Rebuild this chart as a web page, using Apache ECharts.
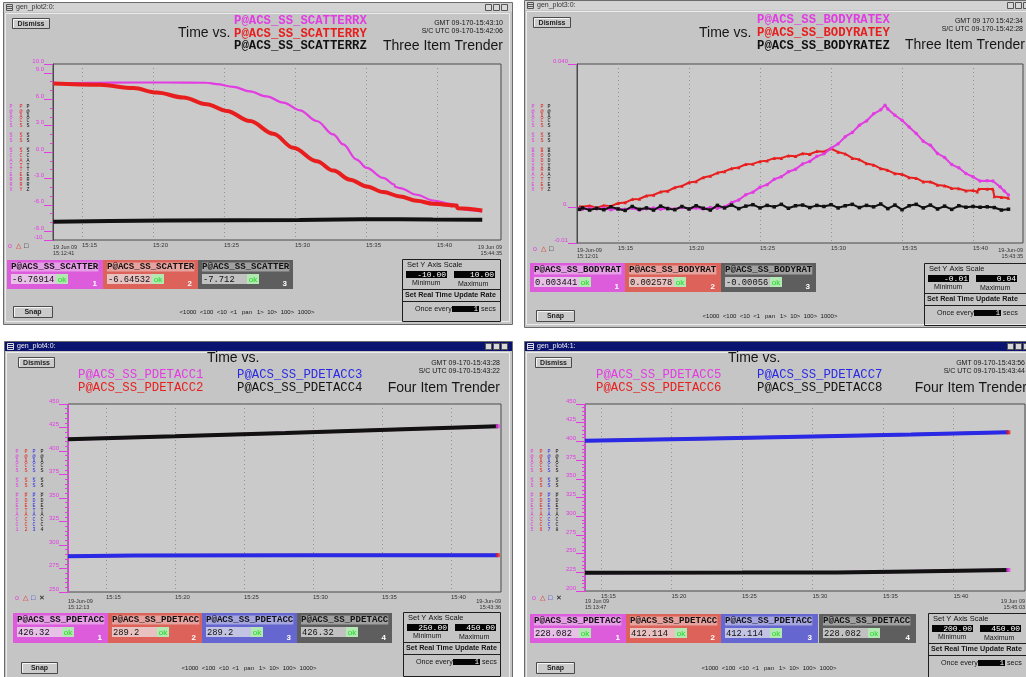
<!DOCTYPE html>
<html>
<head>
<meta charset="utf-8">
<script src="https://cdn.jsdelivr.net/npm/echarts@6/dist/echarts.min.js"></script>
<style>
html, body { margin: 0; padding: 0; background: #ffffff; }
#c { width: 1026px; height: 677px; }
</style>
</head>
<body>
<div id="c"></div>
<script>
// ---- time axis (minutes past 15:00 GMT) ----
const timeTickMinutes = [15, 20, 25, 30, 35, 40];
const timeTickLabels = ['15:15', '15:20', '15:25', '15:30', '15:35', '15:40'];

// ---- Three Item Trender: scatter errors ----
const scatterNames = ['P@ACS_SS_SCATTERRX', 'P@ACS_SS_SCATTERRY', 'P@ACS_SS_SCATTERRZ'];
const scatterLatest = ['-6.76914', '-6.64532', '-7.712'];
const scatterTickValues = [-10, -9, -6, -3, 0, 3, 6, 9, 10];
const scatterTickLabels = ['-10.', '-9.0', '-6.0', '-3.0', '0.0', '3.0', '6.0', '9.0', '10.0'];
const scatterMinorTicks = [-10, -9, -8, -7, -6, -5, -4, -3, -2, -1, 0, 1, 2, 3, 4, 5, 6, 7, 8, 9, 10];
const scatterX = [[12.98, 7.79], [15.5, 7.85], [18.62, 7.9], [21.0, 7.9], [23.78, 7.87], [24.49, 7.71],
  [25.66, 7.41], [26.83, 6.88], [28.0, 6.31], [29.18, 5.62], [30.35, 4.74], [31.53, 3.52], [32.7, 2.0],
  [33.4, 0.86], [34.34, -0.86], [35.05, -1.81], [36.22, -2.95], [37.0, -3.7], [37.05, -3.95], [37.4, -4.1],
  [38.57, -4.86], [39.74, -5.51], [40.92, -5.89], [41.4, -6.05], [41.43, -6.38], [42.3, -6.6], [43.19, -6.76914]];
const scatterY = [[12.98, 7.79], [16.27, 7.64], [18.62, 7.26], [20.26, 6.76], [22.14, 6.19], [23.78, 5.43],
  [25.19, 4.67], [26.83, 3.52], [28.47, 2.08], [29.88, 0.48], [31.53, -1.05], [32.7, -2.11], [33.88, -3.14],
  [35.05, -3.91], [36.22, -4.55], [37.4, -5.05], [38.57, -5.54], [39.74, -5.89], [41.39, -6.08],
  [41.43, -6.38], [43.19, -6.64532]];
const scatterZ = [[12.98, -7.92], [16.97, -7.85], [20.97, -7.78], [25.7, -7.75], [30.3, -7.72],
  [34.6, -7.64], [37.4, -7.63], [39.7, -7.68], [43.19, -7.712]];

// ---- Three Item Trender: body rates ----
const rateNames = ['P@ACS_SS_BODYRATEX', 'P@ACS_SS_BODYRATEY', 'P@ACS_SS_BODYRATEZ'];
const rateLatest = ['0.003441', '0.002578', '-0.00056'];
const rateTickValues = [-0.01, 0, 0.04];
const rateTickLabels = ['-0.01', '0.', '0.040'];
const bodyRateX = [[12.3, -0.0004], [12.5, -0.0006], [13.0, -0.0003], [13.5, -0.0005], [14.0, -0.0002],
  [14.5, -0.0007], [15.0, -0.0004], [15.5, -0.0006], [16.0, -0.0003], [16.5, -0.0008], [17.0, -0.0004],
  [17.5, -0.0002], [18.0, -0.0006], [18.5, -0.0003], [19.0, -0.0005], [19.5, -0.0001], [20.0, -0.0004],
  [20.5, -0.0002], [21.0, -0.0005], [21.5, -0.0001], [22.0, -0.0003], [22.5, 0.0001], [23.0, 0.0013],
  [23.5, 0.0020], [24.0, 0.0035], [24.5, 0.0042], [25.0, 0.0056], [25.5, 0.0063], [26.0, 0.0078],
  [26.5, 0.0085], [27.0, 0.0099], [27.5, 0.0106], [28.0, 0.0121], [28.5, 0.0128], [29.0, 0.0142],
  [29.5, 0.0149], [30.0, 0.0165], [30.5, 0.0177], [31.0, 0.0197], [31.5, 0.0209], [32.0, 0.0229],
  [32.5, 0.0241], [33.0, 0.0261], [33.5, 0.0272], [33.8, 0.0285], [34.0, 0.0274], [34.5, 0.0257],
  [35.0, 0.0243], [35.5, 0.0224], [36.0, 0.0206], [36.5, 0.0184], [37.0, 0.0173], [37.5, 0.0150],
  [38.0, 0.0139], [38.5, 0.0119], [39.0, 0.0110], [39.5, 0.0094], [40.0, 0.0085], [40.5, 0.0073],
  [41.0, 0.0074], [41.4, 0.0073], [41.9, 0.0057], [42.2, 0.0045], [42.5, 0.003441]];
const bodyRateY = [[12.3, 0.0002], [12.5, 0.0001], [13.0, 0.0004], [13.5, -0.0002], [14.0, 0.0005],
  [14.5, 0.0003], [15.0, 0.0011], [15.5, 0.0013], [16.0, 0.0022], [16.5, 0.0023], [17.0, 0.0032],
  [17.5, 0.0034], [18.0, 0.0043], [18.5, 0.0045], [19.0, 0.0055], [19.5, 0.0059], [20.0, 0.0069],
  [20.5, 0.0072], [21.0, 0.0083], [21.5, 0.0087], [22.0, 0.0096], [22.5, 0.0100], [23.0, 0.0108],
  [23.5, 0.0111], [24.0, 0.0120], [24.5, 0.0121], [25.0, 0.0128], [25.5, 0.0130], [26.0, 0.0137],
  [26.5, 0.0137], [27.0, 0.0144], [27.5, 0.0142], [28.0, 0.0150], [28.5, 0.0148], [29.0, 0.0156],
  [29.5, 0.0155], [30.0, 0.0164], [30.5, 0.0154], [31.0, 0.0149], [31.5, 0.0137], [32.0, 0.0133],
  [32.5, 0.0122], [33.0, 0.0118], [33.5, 0.0108], [34.0, 0.0103], [34.5, 0.0094], [35.0, 0.0092],
  [35.5, 0.0083], [36.0, 0.0081], [36.5, 0.0071], [37.0, 0.0071], [37.5, 0.0062], [38.0, 0.0060],
  [38.5, 0.0053], [39.0, 0.0052], [39.5, 0.0046], [40.0, 0.0047], [40.3, 0.0043], [40.4, 0.0051],
  [41.0, 0.0051], [41.4, 0.0051], [41.5, 0.0030], [42.0, 0.0028], [42.5, 0.002578]];
const bodyRateZ = [[12.3, -0.0006], [12.5, -0.0002], [13.0, -0.0008], [13.5, -0.0003], [14.0, -0.0007],
  [14.5, 0.0001], [15.0, -0.0005], [15.5, -0.0009], [16.0, 0.0002], [16.5, -0.0006], [17.0, -0.0002],
  [17.5, -0.0008], [18.0, 0.0003], [18.5, -0.0004], [19.0, -0.0007], [19.5, 0.0002], [20.0, -0.0005],
  [20.5, 0.0004], [21.0, -0.0003], [21.5, -0.0008], [22.0, 0.0005], [22.5, -0.0002], [23.0, 0.0006],
  [23.5, -0.0004], [24.0, 0.0003], [24.5, 0.0007], [25.0, -0.0002], [25.5, 0.0005], [26.0, 0.0001],
  [26.5, 0.0008], [27.0, -0.0003], [27.5, 0.0004], [28.0, 0.0006], [28.5, -0.0001], [29.0, 0.0005],
  [29.5, 0.0002], [30.0, 0.0007], [30.5, -0.0002], [31.0, 0.0004], [31.5, 0.0008], [32.0, -0.0001],
  [32.5, 0.0005], [33.0, 0.0001], [33.5, 0.0009], [34.0, -0.0004], [34.5, 0.0006], [35.0, -0.0007],
  [35.5, 0.0004], [36.0, 0.0008], [36.5, -0.0002], [37.0, 0.0006], [37.5, -0.0005], [38.0, 0.0003],
  [38.5, -0.0006], [39.0, 0.0004], [39.5, 0.0000], [40.0, 0.0002], [40.5, 0.0000], [41.0, 0.0001],
  [41.5, -0.0001], [42.0, -0.0008], [42.5, -0.00056]];

// ---- Four Item Trender: PDETACC 1-4 ----
const pdetNamesA = ['P@ACS_SS_PDETACC1', 'P@ACS_SS_PDETACC2', 'P@ACS_SS_PDETACC3', 'P@ACS_SS_PDETACC4'];
const pdetLatestA = ['426.32', '289.2', '289.2', '426.32'];
const pdetacc1 = [[12.25, 412.4], [20.0, 415.6], [28.0, 419.1], [36.0, 422.9], [43.4, 426.32]];
const pdetacc2 = [[12.25, 288.0], [17.0, 288.9], [30.0, 289.1], [43.4, 289.2]];
const pdetacc3 = [[12.25, 288.0], [17.0, 288.9], [30.0, 289.1], [43.4, 289.2]];
const pdetacc4 = [[12.25, 412.4], [20.0, 415.6], [28.0, 419.1], [36.0, 422.9], [43.4, 426.32]];

// ---- Four Item Trender: PDETACC 5-8 ----
const pdetNamesB = ['P@ACS_SS_PDETACC5', 'P@ACS_SS_PDETACC6', 'P@ACS_SS_PDETACC7', 'P@ACS_SS_PDETACC8'];
const pdetLatestB = ['228.082', '412.114', '412.114', '228.082'];
const pdetacc5 = [[13.87, 224.5], [25.0, 224.6], [31.7, 224.8], [37.0, 226.2], [43.9, 228.082]];
const pdetacc6 = [[13.87, 400.8], [22.0, 403.7], [30.0, 406.6], [37.0, 409.3], [43.9, 412.114]];
const pdetacc7 = [[13.87, 400.8], [22.0, 403.7], [30.0, 406.6], [37.0, 409.3], [43.9, 412.114]];
const pdetacc8 = [[13.87, 224.5], [25.0, 224.6], [31.7, 224.8], [37.0, 226.2], [43.9, 228.082]];

// ---- styling ----
const SANS = '"Liberation Sans", Arial, sans-serif';
const MONO = '"Liberation Mono", "DejaVu Sans Mono", monospace';
const MAG = '#e23ce2', RED = '#e81e1e', BLUE = '#2a2ae6', BLK = '#111111';
const BOX_MAG = '#dc5cdc', BOX_RED = '#dc625a', BOX_BLUE = '#6666d0', BOX_GREY = '#5e5e5e';

// ---- window chrome drawn with graphic elements ----
const g = [];
function rect(x, y, w, h, fill, stroke, z) {
  g.push({ type: 'rect', silent: true, z: z === undefined ? -5 : z,
    shape: { x: x, y: y, width: w, height: h },
    style: { fill: fill || 'none', stroke: stroke || 'none', lineWidth: stroke ? 1 : 0 } });
}
function seg(x1, y1, x2, y2, color, z) {
  g.push({ type: 'line', silent: true, z: z === undefined ? -4 : z,
    shape: { x1: x1, y1: y1, x2: x2, y2: y2 }, style: { stroke: color, lineWidth: 1 } });
}
function txt(x, y, str, st) {
  g.push({ type: 'text', silent: true, z: 20, x: x, y: y,
    style: Object.assign({ text: str, fill: '#161616', fontFamily: SANS, fontSize: 7,
      align: 'left', verticalAlign: 'middle' }, st || {}) });
}
function windowFrame(x, y, w, h, title, dark) {
  rect(x + 0.5, y + 0.5, w, h, '#c5c5c5', '#6c6c6c', -10);
  rect(x + 1, y + 1, w - 1, 9, dark ? '#0b1370' : '#d3d3d3', null, -9);
  rect(x + 3.5, y + 2.5, 6, 6, 'none', dark ? '#dcdcdc' : '#555555', -8);
  seg(x + 4, y + 4.5, x + 9, y + 4.5, dark ? '#dcdcdc' : '#555555', -8);
  seg(x + 4, y + 6.5, x + 9, y + 6.5, dark ? '#dcdcdc' : '#555555', -8);
  txt(x + 13, y + 5.5, title, { fontSize: 7, fill: dark ? '#f0f0f0' : '#333333' });
  for (let i = 0; i < 3; i++) rect(x + w - 26.5 + i * 8, y + 2.5, 6, 6, '#d8d8d8', '#555555', -8);
  rect(x + 2.5, y + 11.5, w - 5, h - 14, 'none', '#ececec', -9);
}
function button(x, y, w, h, str) {
  rect(x + 0.5, y + 0.5, w, h, '#cbcbcb', '#4a4a4a', -6);
  seg(x + 1.5, y + 1.5, x + w - 0.5, y + 1.5, '#f6f6f6', -5);
  seg(x + 1.5, y + 1.5, x + 1.5, y + h - 0.5, '#f6f6f6', -5);
  txt(x + w / 2 + 0.5, y + h / 2 + 1, str, { fontSize: 7, fontWeight: 'bold', align: 'center', fill: '#222' });
}
function valueBox(x, y, w, h, fill, title, value, idx) {
  rect(x, y, w, h, fill, null, -6);
  txt(x + 4, y + 7, title, { fontFamily: MONO, fontSize: 9.1, fontWeight: 'bold', fill: '#111',
    backgroundColor: 'rgba(242,242,242,0.45)' });
  rect(x + 4, y + 14, 45, 10, 'rgba(235,235,235,0.7)', null, -5);
  txt(x + 5, y + 19.5, value, { fontFamily: MONO, fontSize: 8.8, fill: '#111' });
  rect(x + 49, y + 14, 12, 10, '#b2e8b2', null, -5);
  txt(x + 55, y + 19.5, 'ok', { fontSize: 8, fill: '#20d820', align: 'center' });
  txt(x + w - 6, y + h - 5, String(idx), { fontSize: 8, fontWeight: 'bold', fill: '#ffffff', align: 'right' });
}
function scaleBox(x, y, w, h, minTxt, maxTxt) {
  rect(x + 0.5, y + 0.5, w, h, 'none', '#1e1e1e', -5);
  txt(x + 5, y + 6, 'Set Y Axis Scale', { fontSize: 7.5 });
  rect(x + 4, y + 12, 41, 7, '#050505', null, -4);
  txt(x + 44, y + 15.5, minTxt, { fontFamily: MONO, fontSize: 8, fill: '#ffffff', align: 'right' });
  rect(x + 52, y + 12, 41, 7, '#050505', null, -4);
  txt(x + 92, y + 15.5, maxTxt, { fontFamily: MONO, fontSize: 8, fill: '#ffffff', align: 'right' });
  txt(x + 10, y + 24, 'Minimum', { fontSize: 7 });
  txt(x + 56, y + 25, 'Maximum', { fontSize: 7 });
  seg(x, y + 30.5, x + w, y + 30.5, '#1e1e1e');
  txt(x + 3, y + 36, 'Set Real Time Update Rate', { fontSize: 7.2, fontWeight: 'bold' });
  seg(x, y + 42.5, x + w, y + 42.5, '#1e1e1e');
  txt(x + 13, y + 50, 'Once every', { fontSize: 7.2 });
  rect(x + 50, y + 47, 27, 6, '#050505', null, -4);
  txt(x + 76, y + 50, '1', { fontFamily: MONO, fontSize: 7, fill: '#ffffff', align: 'right' });
  txt(x + 79, y + 50, 'secs', { fontSize: 7.2 });
}
function vcol(x, y, str, color) {
  txt(x, y, str.split('').join('\n'), { fontFamily: MONO, fontSize: 5, lineHeight: 4.9, fill: color,
    verticalAlign: 'top', align: 'center' });
}
function markers(x, y, colors) {
  const glyphs = ['o', '\u25B3', '\u25A1', '\u2715'];
  colors.forEach(function (c, i) { txt(x + i * 8, y, glyphs[i], { fontSize: 7, fill: c }); });
}
function dates(xl, xr, y, day, t0, t1) {
  txt(xl, y, day, { fontSize: 5.5, fill: '#333' });
  txt(xl, y + 6, t0, { fontSize: 5.5, fill: '#333' });
  txt(xr, y, day, { fontSize: 5.5, fill: '#333', align: 'right' });
  txt(xr, y + 6, t1, { fontSize: 5.5, fill: '#333', align: 'right' });
}
const PAN = '<1000  <100  <10  <1   pan   1>  10>  100>  1000>';

// Panel 1: scatter errors
windowFrame(3, 2, 509, 322, 'gen_plot2:0:', false);
button(12, 18, 37, 10, 'Dismiss');
txt(178, 33, 'Time vs.', { fontSize: 14 });
[MAG, RED, BLK].forEach(function (c, i) {
  txt(234, 21 + i * 12.5, scatterNames[i], { fontFamily: MONO, fontSize: 12.3, fontWeight: 'bold', fill: c });
});
txt(503, 23, 'GMT 09-170-15:43:10', { fontSize: 7, align: 'right' });
txt(503, 31, 'S/C UTC 09-170-15:42:06', { fontSize: 7, align: 'right' });
txt(503, 46, 'Three Item Trender', { fontSize: 14, align: 'right' });
vcol(11, 104, scatterNames[0], MAG); vcol(21, 104, scatterNames[1], RED); vcol(28, 104, scatterNames[2], BLK);
markers(8, 246, [MAG, RED, BLK]);
dates(53, 502, 247, '19 Jun 09', '15:12:41', '15:44:35');
valueBox(7, 260, 96, 29, BOX_MAG, 'P@ACS_SS_SCATTER', scatterLatest[0], 1);
valueBox(103, 260, 95, 29, BOX_RED, 'P@ACS_SS_SCATTER', scatterLatest[1], 2);
valueBox(198, 260, 95, 29, BOX_GREY, 'P@ACS_SS_SCATTER', scatterLatest[2], 3);
scaleBox(402, 259, 98, 62, '-10.00', '10.00');
button(13, 306, 39, 11, 'Snap');
txt(247, 312, PAN, { fontSize: 6, align: 'center' });

// Panel 2: body rates
windowFrame(524, 0, 510, 327, 'gen_plot3:0:', false);
button(533, 17, 37, 10, 'Dismiss');
txt(699, 33, 'Time vs.', { fontSize: 14 });
[MAG, RED, BLK].forEach(function (c, i) {
  txt(757, 20 + i * 13, rateNames[i], { fontFamily: MONO, fontSize: 12.3, fontWeight: 'bold', fill: c });
});
txt(1023, 21, 'GMT 09 170 15:42:34', { fontSize: 7, align: 'right' });
txt(1023, 29, 'S/C UTC 09-170-15:42:28', { fontSize: 7, align: 'right' });
txt(1025, 45, 'Three Item Trender', { fontSize: 14, align: 'right' });
vcol(533, 104, rateNames[0], MAG); vcol(542, 104, rateNames[1], RED); vcol(549, 104, rateNames[2], BLK);
markers(533, 249, [MAG, RED, BLK]);
dates(577, 1023, 250, '19-Jun-09', '15:12:01', '15:43:35');
valueBox(530, 263, 95, 29, BOX_MAG, 'P@ACS_SS_BODYRAT', rateLatest[0], 1);
valueBox(625, 263, 96, 29, BOX_RED, 'P@ACS_SS_BODYRAT', rateLatest[1], 2);
valueBox(721, 263, 95, 29, BOX_GREY, 'P@ACS_SS_BODYRAT', rateLatest[2], 3);
scaleBox(924, 263, 104, 62, '-0.01', '0.04');
button(536, 310, 38, 11, 'Snap');
txt(770, 316, PAN, { fontSize: 6, align: 'center' });

// Panel 3: PDETACC 1-4
windowFrame(4, 341, 508, 340, 'gen_plot4:0:', true);
button(18, 357, 36, 10, 'Dismiss');
txt(207, 358, 'Time vs.', { fontSize: 14 });
txt(78, 375, pdetNamesA[0], { fontFamily: MONO, fontSize: 12.3, fill: MAG });
txt(78, 388, pdetNamesA[1], { fontFamily: MONO, fontSize: 12.3, fill: RED });
txt(237, 375, pdetNamesA[2], { fontFamily: MONO, fontSize: 12.3, fill: BLUE });
txt(237, 388, pdetNamesA[3], { fontFamily: MONO, fontSize: 12.3, fill: BLK });
txt(500, 363, 'GMT 09-170-15:43:28', { fontSize: 7, align: 'right' });
txt(500, 371, 'S/C UTC 09-170-15:43:22', { fontSize: 7, align: 'right' });
txt(500, 388, 'Four Item Trender', { fontSize: 14, align: 'right' });
vcol(17, 449, pdetNamesA[0], MAG); vcol(26, 449, pdetNamesA[1], RED);
vcol(34, 449, pdetNamesA[2], BLUE); vcol(42, 449, pdetNamesA[3], BLK);
markers(15, 598, [MAG, RED, BLUE, BLK]);
dates(68, 501, 601, '19-Jun-09', '15:12:13', '15:43:36');
valueBox(13, 613, 95, 30, BOX_MAG, 'P@ACS_SS_PDETACC', pdetLatestA[0], 1);
valueBox(108, 613, 94, 30, BOX_RED, 'P@ACS_SS_PDETACC', pdetLatestA[1], 2);
valueBox(202, 613, 95, 30, BOX_BLUE, 'P@ACS_SS_PDETACC', pdetLatestA[2], 3);
valueBox(297, 613, 95, 30, BOX_GREY, 'P@ACS_SS_PDETACC', pdetLatestA[3], 4);
scaleBox(403, 612, 97, 64, '250.00', '450.00');
button(21, 662, 36, 11, 'Snap');
txt(249, 668, PAN, { fontSize: 6, align: 'center' });

// Panel 4: PDETACC 5-8
windowFrame(524, 341, 510, 340, 'gen_plot4:1:', true);
button(535, 357, 36, 10, 'Dismiss');
txt(728, 358, 'Time vs.', { fontSize: 14 });
txt(596, 375, pdetNamesB[0], { fontFamily: MONO, fontSize: 12.3, fill: MAG });
txt(596, 388, pdetNamesB[1], { fontFamily: MONO, fontSize: 12.3, fill: RED });
txt(757, 375, pdetNamesB[2], { fontFamily: MONO, fontSize: 12.3, fill: BLUE });
txt(757, 388, pdetNamesB[3], { fontFamily: MONO, fontSize: 12.3, fill: BLK });
txt(1025, 363, 'GMT 09-170-15:43:56', { fontSize: 7, align: 'right' });
txt(1025, 371, 'S/C UTC 09-170-15:43:44', { fontSize: 7, align: 'right' });
txt(1027, 388, 'Four Item Trender', { fontSize: 14, align: 'right' });
vcol(532, 449, pdetNamesB[0], MAG); vcol(541, 449, pdetNamesB[1], RED);
vcol(549, 449, pdetNamesB[2], BLUE); vcol(557, 449, pdetNamesB[3], BLK);
markers(532, 598, [MAG, RED, BLUE, BLK]);
dates(585, 1025, 601, '19 Jun 09', '15:13:47', '15:45:03');
valueBox(530, 614, 96, 29, BOX_MAG, 'P@ACS_SS_PDETACC', pdetLatestB[0], 1);
valueBox(626, 614, 95, 29, BOX_RED, 'P@ACS_SS_PDETACC', pdetLatestB[1], 2);
valueBox(721, 614, 97, 29, BOX_BLUE, 'P@ACS_SS_PDETACC', pdetLatestB[2], 3);
valueBox(819, 614, 97, 29, BOX_GREY, 'P@ACS_SS_PDETACC', pdetLatestB[3], 4);
scaleBox(928, 613, 100, 64, '200.00', '450.00');
button(536, 662, 38, 11, 'Snap');
txt(769, 668, PAN, { fontSize: 6, align: 'center' });

// ---- plot areas ----
const grids = [
  { left: 53, top: 64, width: 448, height: 176 },
  { left: 577, top: 64, width: 446, height: 179 },
  { left: 68, top: 404, width: 433, height: 188 },
  { left: 585, top: 404, width: 440, height: 187 }
].map(function (r) {
  return Object.assign({ show: true, backgroundColor: '#cacaca', borderColor: '#4a4a4a', borderWidth: 1 }, r);
});

function pick(values, labels) {
  return function (v) {
    let best = 0;
    for (let i = 1; i < values.length; i++) if (Math.abs(values[i] - v) < Math.abs(values[best] - v)) best = i;
    return labels[best];
  };
}
function timeAxis(gi, min, max) {
  return {
    type: 'value', gridIndex: gi, min: min, max: max,
    axisLine: { show: false },
    axisTick: { show: false, customValues: timeTickMinutes },
    axisLabel: { customValues: timeTickMinutes, formatter: pick(timeTickMinutes, timeTickLabels),
      fontSize: 6, color: '#333', align: 'left', margin: 2, fontFamily: SANS },
    splitLine: { show: true, lineStyle: { color: '#939393', type: [1, 3], width: 1 } }
  };
}
const yLabel = { fontSize: 6, color: MAG, fontFamily: SANS, margin: 9, verticalAlign: 'bottom' };

const xAxis = [
  timeAxis(0, 12.96, 44.51),
  timeAxis(1, 12.11, 43.52),
  timeAxis(2, 12.25, 43.63),
  timeAxis(3, 13.87, 45.08)
];
const yAxis = [
  { type: 'value', gridIndex: 0, position: 'left', min: -10, max: 10,
    axisLine: { show: true, lineStyle: { color: '#4a4a4a' } },
    axisTick: { show: true, length: 9, customValues: scatterTickValues, lineStyle: { color: MAG } },
    axisLabel: Object.assign({ customValues: scatterTickValues, formatter: pick(scatterTickValues, scatterTickLabels) }, yLabel),
    splitLine: { show: false } },
  { type: 'value', gridIndex: 0, position: 'left', offset: 0, min: -10, max: 10,
    axisLine: { show: false },
    axisTick: { show: true, length: 3, customValues: scatterMinorTicks, lineStyle: { color: MAG } },
    axisLabel: { show: false }, splitLine: { show: false } },
  { type: 'value', gridIndex: 1, position: 'left', min: -0.01, max: 0.04,
    axisLine: { show: true, lineStyle: { color: '#4a4a4a' } },
    axisTick: { show: true, length: 9, customValues: rateTickValues, lineStyle: { color: MAG } },
    axisLabel: Object.assign({ customValues: rateTickValues, formatter: pick(rateTickValues, rateTickLabels) }, yLabel),
    splitLine: { show: false } },
  { type: 'value', gridIndex: 2, position: 'left', min: 250, max: 450, interval: 25,
    axisLine: { show: true, lineStyle: { color: MAG } },
    axisTick: { show: true, length: 9, lineStyle: { color: MAG } },
    minorTick: { show: true, splitNumber: 5, length: 3, lineStyle: { color: MAG } },
    axisLabel: yLabel, splitLine: { show: false } },
  { type: 'value', gridIndex: 3, position: 'left', min: 200, max: 450, interval: 25,
    axisLine: { show: true, lineStyle: { color: MAG } },
    axisTick: { show: true, length: 9, lineStyle: { color: MAG } },
    minorTick: { show: true, splitNumber: 5, length: 3, lineStyle: { color: MAG } },
    axisLabel: yLabel, splitLine: { show: false } }
];

function trace(name, data, xi, yi, color, width, extra) {
  return Object.assign({
    type: 'line', name: name, data: data, xAxisIndex: xi, yAxisIndex: yi,
    showSymbol: false, symbol: 'none', clip: true, animation: false,
    lineStyle: { color: color, width: width }, itemStyle: { color: color }
  }, extra || {});
}
function noisy(symbol) {
  return { showSymbol: true, symbol: symbol, symbolSize: 3.5, smooth: false };
}
function tail(name, data, xi, yi, color) {
  return { type: 'scatter', name: name, data: [data[data.length - 1]], xAxisIndex: xi, yAxisIndex: yi,
    symbol: 'rect', symbolSize: 4, itemStyle: { color: color }, z: 5, animation: false };
}

const series = [
  trace(scatterNames[2], scatterZ, 0, 0, BLK, 4),
  trace(scatterNames[0], scatterX, 0, 0, MAG, 2.2, { smooth: 0.35, smoothMonotone: 'x' }),
  trace(scatterNames[1], scatterY, 0, 0, RED, 4, { smooth: 0.35, smoothMonotone: 'x' }),

  trace(rateNames[1], bodyRateY, 1, 2, RED, 2, noisy('triangle')),
  trace(rateNames[0], bodyRateX, 1, 2, MAG, 2, noisy('circle')),
  trace(rateNames[2], bodyRateZ, 1, 2, BLK, 2, noisy('rect')),

  trace(pdetNamesA[0], pdetacc1, 2, 3, MAG, 3),
  trace(pdetNamesA[1], pdetacc2, 2, 3, RED, 3),
  trace(pdetNamesA[2], pdetacc3, 2, 3, BLUE, 4),
  trace(pdetNamesA[3], pdetacc4, 2, 3, BLK, 4),
  tail(pdetNamesA[0], pdetacc1, 2, 3, MAG),
  tail(pdetNamesA[1], pdetacc2, 2, 3, RED),

  trace(pdetNamesB[0], pdetacc5, 3, 4, MAG, 3),
  trace(pdetNamesB[1], pdetacc6, 3, 4, RED, 3),
  trace(pdetNamesB[2], pdetacc7, 3, 4, BLUE, 4),
  trace(pdetNamesB[3], pdetacc8, 3, 4, BLK, 4),
  tail(pdetNamesB[0], pdetacc5, 3, 4, MAG),
  tail(pdetNamesB[1], pdetacc6, 3, 4, RED)
];

const chart = echarts.init(document.getElementById('c'), null, { renderer: 'canvas', width: 1026, height: 677 });
chart.setOption({
  animation: false,
  backgroundColor: '#ffffff',
  grid: grids,
  xAxis: xAxis,
  yAxis: yAxis,
  series: series,
  graphic: { elements: g }
});
</script>
</body>
</html>
